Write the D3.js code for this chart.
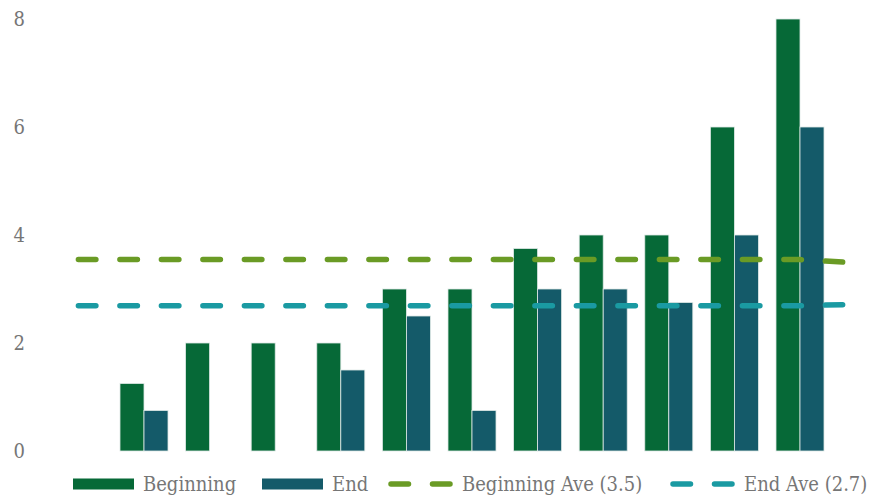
<!DOCTYPE html>
<meta charset="utf-8">
<script src="https://d3js.org/d3.v7.min.js"></script>
<style>
  body { margin: 0; background: #fff; }
  svg text { font-family: "DejaVu Serif Condensed", "DejaVu Serif", serif; fill: #767676; }
</style>
<div id="chart"></div>
<script>

// chart data
var categories = ["0", "1", "2", "3", "4", "5", "6", "7", "8", "9", "10", "11"];
var beginning = [null, 1.25, 2, 2, 2, 3, 3, 3.75, 4, 4, 6, 8];
var end = [null, 0.75, 0, 0, 1.5, 2.5, 0.75, 3, 3, 2.75, 4, 6];
var yTicks = [0, 2, 4, 6, 8];

// average lines (position along categories, value)
var avePos = [0, 11, 11.65];
var beginAve = [3.545, 3.545, 3.50];
var endAve = [2.69, 2.69, 2.71];

var seriesNames = ["Beginning", "End"];
var legendLabels = ["Beginning", "End", "Beginning Ave (3.5)", "End Ave (2.7)"];

var colors = {Beginning: "#066937", End: "#145A69"};
var aveColors = ["#6A9B25", "#1A9AA2"];

var width = 874, height = 499;

var svg = d3.select("#chart")
  .append("svg")
    .attr("width", width)
    .attr("height", height);

// scales
var x = d3.scaleBand()
  .domain(categories)
  .range([45.6, 832.8])
  .paddingInner(0.268)
  .paddingOuter(0.134);

var xSub = d3.scaleBand()
  .domain(seriesNames)
  .range([0, x.bandwidth()]);

var xPos = d3.scaleLinear()
  .domain([0, categories.length - 1])
  .range([x(categories[0]) + x.bandwidth() / 2, x(categories[categories.length - 1]) + x.bandwidth() / 2]);

var y = d3.scaleLinear()
  .domain([0, 8])
  .range([451, 19]);

// y axis, labels only
var yAxis = svg.append("g")
  .attr("transform", "translate(35,0)")
  .call(d3.axisLeft(y).tickValues(yTicks).tickSize(0).tickPadding(10));
yAxis.select(".domain").remove();
yAxis.selectAll("text")
  .attr("font-size", "20px")
  .style("font-family", "'DejaVu Serif Condensed', 'DejaVu Serif', serif")
  .attr("fill", "#767676");

// bars
var rows = categories.map(function(c, i) {
  return {cat: c, Beginning: beginning[i], End: end[i]};
});

var groups = svg.append("g")
  .selectAll("g")
  .data(rows)
  .enter()
  .append("g")
    .attr("transform", function(d) { return "translate(" + x(d.cat) + ",0)"; });

groups.selectAll("rect")
  .data(function(d) {
    return seriesNames.map(function(k) { return {key: k, value: d[k]}; })
      .filter(function(e) { return e.value; });
  })
  .enter()
  .append("rect")
    .attr("x", function(d) { return xSub(d.key); })
    .attr("y", function(d) { return y(d.value); })
    .attr("width", xSub.bandwidth())
    .attr("height", function(d) { return y(0) - y(d.value); })
    .attr("fill", function(d) { return colors[d.key]; })
    .attr("stroke", "#dfe9e6")
    .attr("stroke-width", 0.8);

// average lines
var line = d3.line()
  .x(function(d) { return xPos(d[0]); })
  .y(function(d) { return y(d[1]); });

[beginAve, endAve].forEach(function(vals, k) {
  svg.append("path")
    .datum(avePos.map(function(p, i) { return [p, vals[i]]; }))
    .attr("d", line)
    .attr("fill", "none")
    .attr("stroke", aveColors[k])
    .attr("stroke-width", 5.5)
    .attr("stroke-linecap", "round")
    .attr("stroke-dasharray", "17.5 24");
});

// legend
var legend = svg.append("g");
var legendX = [73, 262, 388, 670];
var legendY = 484;

legendLabels.forEach(function(lab, i) {
  var g = legend.append("g").attr("transform", "translate(" + legendX[i] + "," + legendY + ")");
  if (i < 2) {
    g.append("rect")
      .attr("x", 0).attr("y", -5.5)
      .attr("width", 61).attr("height", 11)
      .attr("fill", colors[seriesNames[i]]);
    g.append("text")
      .attr("x", 70).attr("y", 0).attr("dy", "0.36em")
      .attr("font-size", "20px")
      .text(lab);
  } else {
    g.append("line")
      .attr("x1", 3).attr("x2", 63).attr("y1", 0).attr("y2", 0)
      .attr("stroke", aveColors[i - 2])
      .attr("stroke-width", 5.5)
      .attr("stroke-linecap", "round")
      .attr("stroke-dasharray", "17.5 24");
    g.append("text")
      .attr("x", 74).attr("y", 0).attr("dy", "0.36em")
      .attr("font-size", "20px")
      .text(lab);
  }
});

</script>
